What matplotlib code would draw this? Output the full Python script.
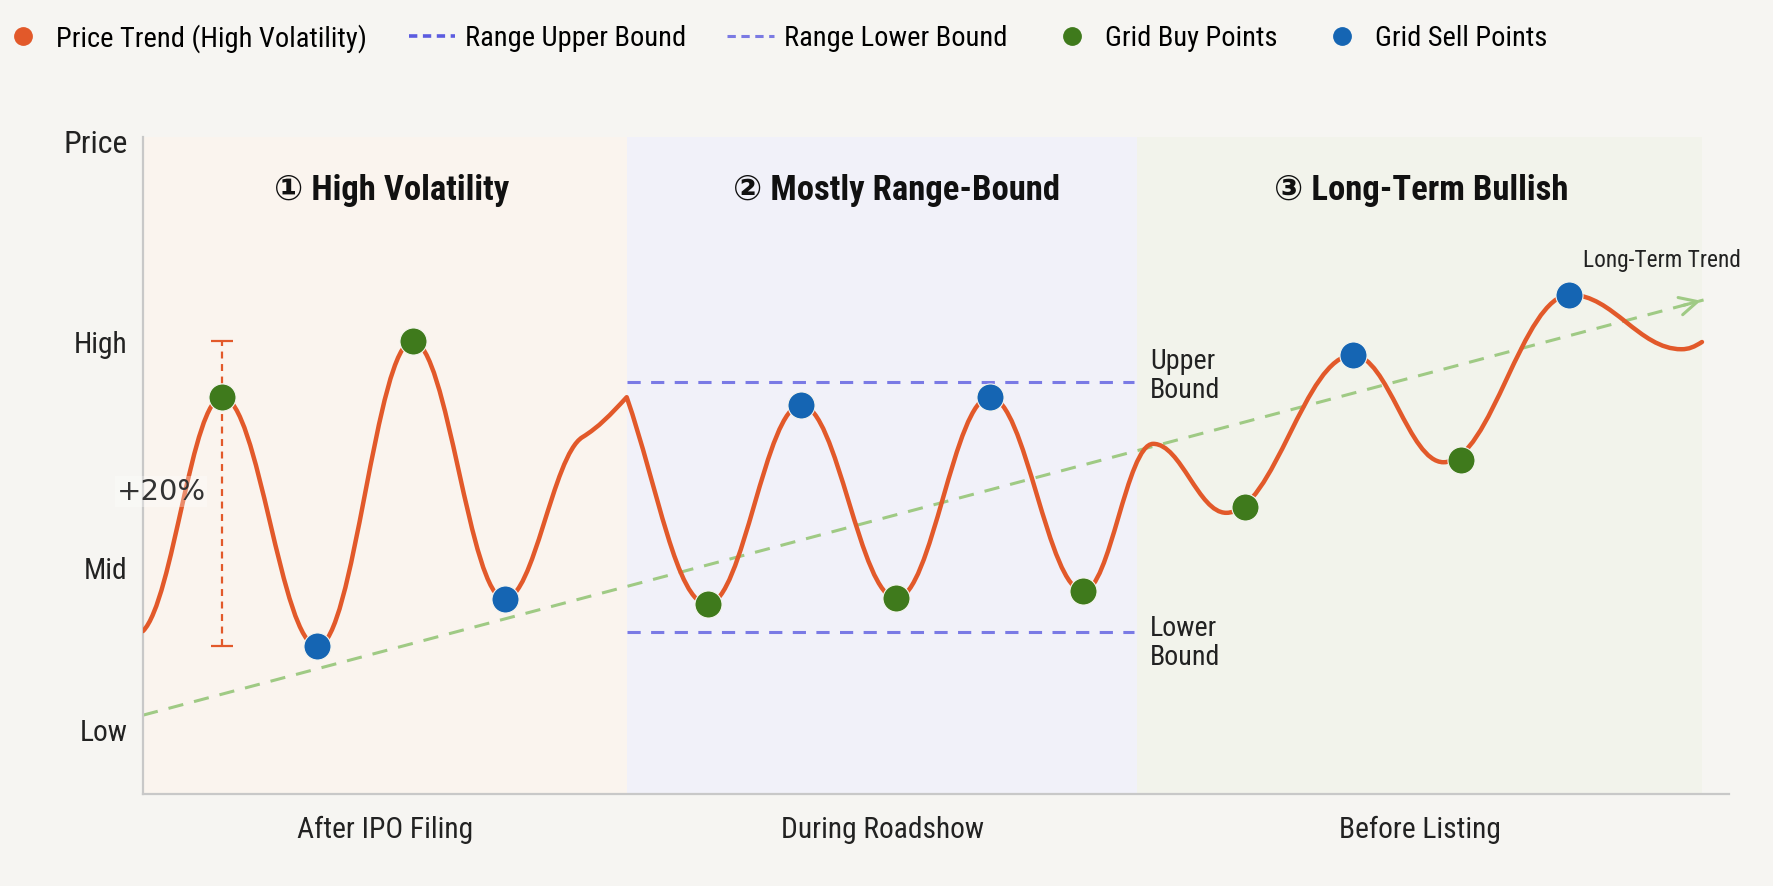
import matplotlib
matplotlib.use("Agg")
import matplotlib.pyplot as plt
from matplotlib.path import Path
from matplotlib.patches import PathPatch
from matplotlib.lines import Line2D
from matplotlib import font_manager

# ---------------- data ----------------
phases = ["After IPO Filing", "During Roadshow", "Before Listing"]
phase_titles = ["① High Volatility", "② Mostly Range-Bound", "③ Long-Term Bullish"]
phase_edges = [0, 30.5, 62.7, 98.3]
title_t = [15.7, 47.5, 80.6]

price_levels = [9.9, 34.6, 69.0, 99.5]
price_labels = ["Low", "Mid", "High", "Price"]

# price curve turning points (time, price) and slope in/out at each point
curve_t = [0, 5.0, 11.0, 17.0, 22.8, 27.7, 30.5, 35.6, 41.5, 47.5, 53.4,
           59.3, 63.7, 68.3, 76.3, 82.0, 90.0, 97.0, 98.3]
curve_p = [24.8, 60.4, 22.5, 68.9, 29.7, 54.3, 60.4, 28.9, 59.2, 29.8, 60.4,
           30.9, 53.3, 42.8, 66.8, 50.5, 76.0, 67.7, 68.8]
slope_in = [0, 0, 0, 0, 0, 1.5, 2.6, 0, 0, 0, 0, 0, 0, 0, 0, 0, 0, 0, 1.5]
slope_out = [2.4, 0, 0, 0, 0, 1.5, -7.0, 0, 0, 0, 0, 0, 0, 0, 0, 0, 0, 0, 0]

buy_t = [5.0, 17.0, 35.6, 47.5, 59.3, 69.5, 83.1]
buy_p = [60.4, 68.9, 28.9, 29.8, 30.9, 43.7, 50.8]
sell_t = [11.0, 22.8, 41.5, 53.4, 76.3, 89.9]
sell_p = [22.5, 29.7, 59.2, 60.4, 66.8, 76.0]

upper_bound = 62.7
lower_bound = 24.7
range_t = [30.5, 62.5]

trend_t = [0, 98.4]
trend_p = [12.0, 75.2]

swing_t = 5.0
swing_lo, swing_hi = 22.5, 68.9

# ---------------- style ----------------
BG = "#f6f5f2"
ORANGE = "#e2592a"
GREEN = "#3f7a1c"
BLUE = "#1565b3"
BOUND = "#5c5ce0"
TREND = "#9fca84"
TXT = "#222222"
shade = ["#faf4ee", "#f1f1f9", "#f2f3eb"]

names = {f.name for f in font_manager.fontManager.ttflist}
main_font = "Roboto"
for cand in ["Roboto Condensed", "Liberation Sans Narrow", "DejaVu Sans Condensed"]:
    if cand in names:
        main_font = cand
        break
plt.rcParams["font.family"] = [main_font, "DejaVu Sans"]
plt.rcParams["lines.scale_dashes"] = False
narrow = main_font != "Roboto"
k = 1.12 if narrow else 1.0   # condensed faces can run a bit bigger

fig = plt.figure(figsize=(17.74, 8.87), dpi=100, facecolor=BG)
ax = fig.add_axes([0.0806, 0.1037, 0.894, 0.7407], facecolor=BG)
ax.set_xlim(0, 100)
ax.set_ylim(0, 100)

for i in range(3):
    ax.axvspan(phase_edges[i], phase_edges[i + 1], color=shade[i], lw=0, zorder=0)
    ax.text(title_t[i], 92.0, phase_titles[i], ha="center", va="center",
            fontsize=22.3 * k, fontweight="bold", color="#111111")

# trend line with arrow head
ax.plot(trend_t, trend_p, color=TREND, lw=2.2, dashes=(11, 8), zorder=2)
tip = (trend_t[1], trend_p[1])
back = (trend_t[1] - 0.015 * (trend_t[1] - trend_t[0]),
        trend_p[1] - 0.015 * (trend_p[1] - trend_p[0]))
ax.annotate("", xy=tip, xytext=back,
            arrowprops=dict(arrowstyle="->", color=TREND, lw=2.2, mutation_scale=32))
ax.text(90.8, 81.3, "Long-Term Trend", fontsize=15 * k, color=TXT, va="center")

# range bounds
ax.plot(range_t, [upper_bound] * 2, color=BOUND, lw=2.2, dashes=(9.5, 7.5), alpha=0.8, zorder=2)
ax.plot(range_t, [lower_bound] * 2, color=BOUND, lw=2.2, dashes=(9.5, 7.5), alpha=0.8, zorder=2)
ax.text(63.5, upper_bound + 1.1, "Upper\nBound", fontsize=18 * k, color=TXT, va="center", linespacing=1.1)
ax.text(63.5, lower_bound - 1.6, "Lower\nBound", fontsize=18 * k, color=TXT, va="center", linespacing=1.1)

# price curve as bezier segments through the turning points
verts = [(curve_t[0], curve_p[0])]
codes = [Path.MOVETO]
for i in range(len(curve_t) - 1):
    h = (curve_t[i + 1] - curve_t[i]) * 0.38
    verts += [(curve_t[i] + h, curve_p[i] + slope_out[i] * h),
              (curve_t[i + 1] - h, curve_p[i + 1] - slope_in[i + 1] * h),
              (curve_t[i + 1], curve_p[i + 1])]
    codes += [Path.CURVE4] * 3
ax.add_patch(PathPatch(Path(verts, codes), fill=False, edgecolor=ORANGE, lw=3.2,
                       capstyle="round", joinstyle="round", zorder=3))

# swing marker (+20%)
eb = ax.errorbar(swing_t, (swing_lo + swing_hi) / 2, yerr=(swing_hi - swing_lo) / 2,
                 fmt="none", ecolor=ORANGE, elinewidth=1.6, capsize=8, capthick=1.6, zorder=2)
eb[2][0].set_linestyle((0, (5, 4)))
ax.text(1.15, 46.1, "+20%", fontsize=21, family="DejaVu Sans", color="#333333",
        ha="center", va="center", clip_on=False, zorder=4,
        bbox=dict(facecolor="white", alpha=0.3, edgecolor="none", pad=1))

# grid points
ax.plot(buy_t, buy_p, "o", ms=19.5, color=GREEN, mec="#f4f4ee", mew=0.8, zorder=5)
ax.plot(sell_t, sell_p, "o", ms=19.5, color=BLUE, mec="#f4f4ee", mew=0.8, zorder=5)

# axes
for s in ["top", "right"]:
    ax.spines[s].set_visible(False)
for s in ["left", "bottom"]:
    ax.spines[s].set_color("#c8c8c8")
    ax.spines[s].set_linewidth(1.6)
centers = [(phase_edges[i] + phase_edges[i + 1]) / 2 for i in range(3)]
ax.set_xticks(centers)
ax.set_xticklabels(phases, fontsize=19 * k, color=TXT)
ax.set_yticks(price_levels)
ax.set_yticklabels(price_labels, fontsize=19 * k, color=TXT)
ax.get_yticklabels()[-1].set_fontsize(20.5 * k)
ax.tick_params(axis="both", length=0)
ax.tick_params(axis="x", pad=15)
ax.tick_params(axis="y", pad=11)

# legend
handles = [
    Line2D([], [], ls="none", marker="o", ms=12.5, color=ORANGE),
    Line2D([], [], color=BOUND, lw=2.6, dashes=(6, 4)),
    Line2D([], [], color=BOUND, lw=2.2, dashes=(6, 4), alpha=0.8),
    Line2D([], [], ls="none", marker="o", ms=12.5, color=GREEN),
    Line2D([], [], ls="none", marker="o", ms=12.5, color=BLUE),
]
labels = ["Price Trend (High Volatility)", "Range Upper Bound", "Range Lower Bound",
          "Grid Buy Points", "Grid Sell Points"]
fig.legend(handles, labels, loc="center left", bbox_to_anchor=(0.0, 1 - 38.5 / 887),
           ncol=5, frameon=False, fontsize=18.3 * k, handlelength=1.65, handletextpad=0.33,
           columnspacing=1.45, borderpad=0, borderaxespad=0)

fig.savefig("out.png", dpi=100, facecolor=BG)
